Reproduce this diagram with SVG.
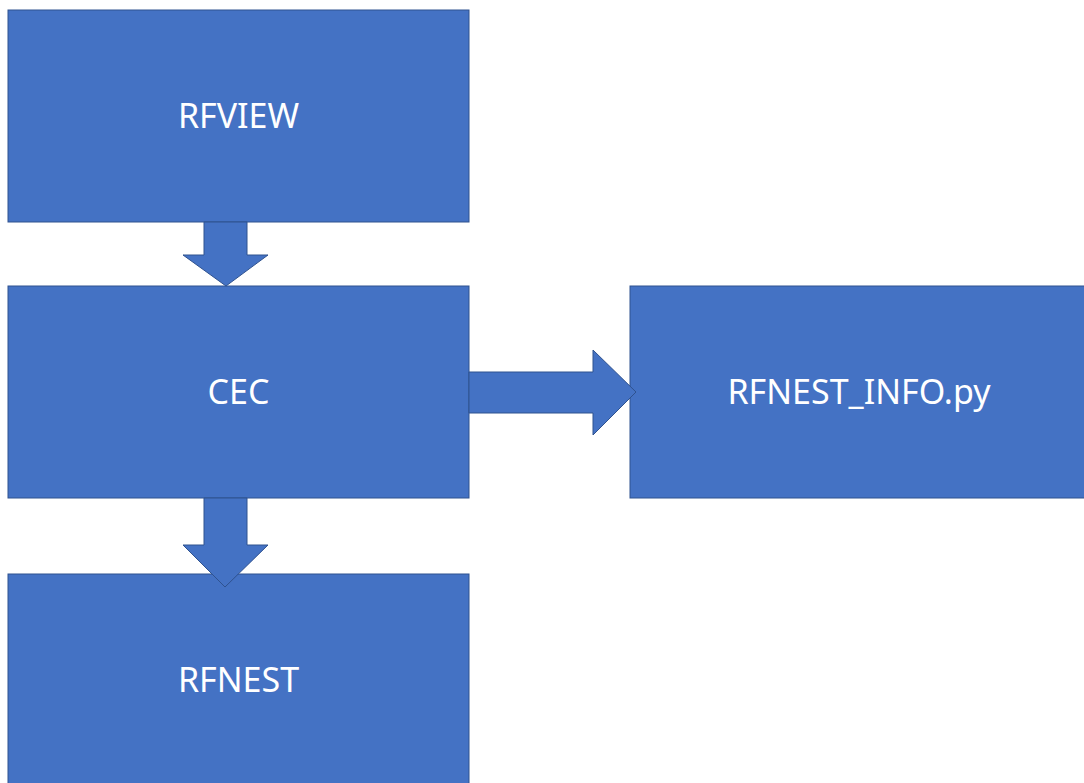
<svg xmlns="http://www.w3.org/2000/svg" width="1084" height="783" viewBox="0 0 1084 783">
<style>
.box{fill:#4472C4;stroke:#2F528F;stroke-width:1}
.arr{fill:#4472C4;stroke:#2F528F;stroke-width:1}
.lbl{fill:#FFFFFF;font-family:"Noto Sans","Open Sans",sans-serif;font-size:34px;text-anchor:middle}
</style>
<rect width="1084" height="783" fill="#FFFFFF"/>
<g id="rfview">
<rect class="box" x="8" y="10" width="461" height="212"/>
<text class="lbl" x="238.5" y="128">RFVIEW</text>
</g>
<g id="cec">
<rect class="box" x="8" y="286" width="461" height="212"/>
<text class="lbl" x="238.5" y="404">CEC</text>
</g>
<g id="rfnest">
<rect class="box" x="8" y="574" width="461" height="215"/>
<text class="lbl" x="238.5" y="692">RFNEST</text>
</g>
<g id="rfnest_info">
<rect class="box" x="630" y="286" width="460" height="212"/>
<text class="lbl" x="859" y="404">RFNEST_INFO.py</text>
</g>
<g id="connectors">
<path class="arr" d="M204,222 L247,222 L247,255 L268,255 L226,286 L183,255 L204,255 Z"/>
<path class="arr" d="M204,498 L247,498 L247,545 L268,545 L225,587 L183,545 L204,545 Z"/>
<path class="arr" d="M469,372 L593,372 L593,350 L636,392 L593,435 L593,413 L469,413 Z"/>
</g>
</svg>
